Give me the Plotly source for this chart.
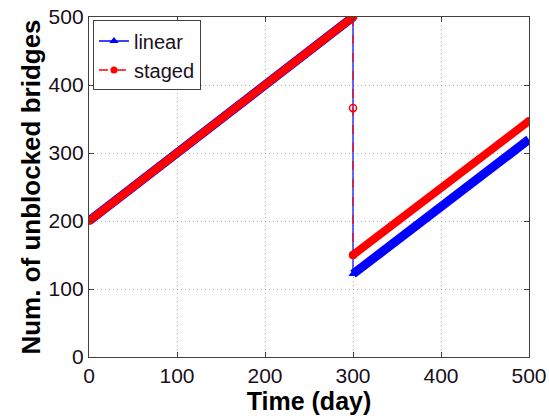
import plotly.graph_objects as go

# ---- data ----
day_rise = [0, 300]
linear_rise = [200, 500]
staged_rise = [200, 500]

day_drop_linear = [300, 300]
linear_drop = [500, 122]
day_drop_staged = [300, 300, 300]
staged_drop = [500, 366, 150]

day_recover = [300, 500]
linear_recover = [122, 320]
staged_recover = [150, 347]

x_ticks = [0, 100, 200, 300, 400, 500]
y_ticks = [0, 100, 200, 300, 400, 500]

BLUE = "#0000ff"
RED = "#ff0000"
FONT = "Liberation Sans, Arial, Helvetica, sans-serif"

fig = go.Figure()

# legend-only entries
fig.add_trace(go.Scatter(x=[None], y=[None], name="linear", mode="lines+markers",
                         line=dict(color=BLUE, width=1.5),
                         marker=dict(symbol="triangle-up", size=8, color=BLUE)))
fig.add_trace(go.Scatter(x=[None], y=[None], name="staged", mode="lines+markers",
                         line=dict(color=RED, width=1.5, dash="dash"),
                         marker=dict(symbol="circle", size=7, color=RED)))

# linear (blue): thick bands + thin drop
fig.add_trace(go.Scatter(x=day_rise, y=linear_rise, mode="lines", showlegend=False,
                         line=dict(color=BLUE, width=9)))
fig.add_trace(go.Scatter(x=day_drop_linear, y=linear_drop, mode="lines+markers", showlegend=False,
                         line=dict(color=BLUE, width=1.2),
                         marker=dict(symbol="triangle-up", size=8, color=BLUE)))
fig.add_trace(go.Scatter(x=day_recover, y=linear_recover, mode="lines", showlegend=False,
                         line=dict(color=BLUE, width=9)))

# staged (red): thick bands + dashed drop
fig.add_trace(go.Scatter(x=day_rise, y=staged_rise, mode="lines+markers", showlegend=False,
                         line=dict(color=RED, width=8),
                         marker=dict(symbol="circle", size=8, color=RED)))
fig.add_trace(go.Scatter(x=day_drop_staged, y=staged_drop, mode="lines+markers", showlegend=False,
                         line=dict(color=RED, width=1.2, dash="dash"),
                         marker=dict(symbol="circle-open", size=7, color=RED, line=dict(width=1.5))))
fig.add_trace(go.Scatter(x=day_recover, y=staged_recover, mode="lines+markers", showlegend=False,
                         line=dict(color=RED, width=8),
                         marker=dict(symbol="circle", size=8, color=RED)))

axis_common = dict(
    showline=True, linecolor="#404040", linewidth=1.3, mirror="ticks",
    ticks="inside", ticklen=5, tickcolor="#404040",
    showgrid=True, gridcolor="#b0b0b0", griddash="1px,3px", gridwidth=1,
    zeroline=False, automargin=False, ticklabeloverflow="allow",
    tickfont=dict(family=FONT, size=21, color="#1a1020"),
)

fig.update_layout(
    width=549, height=416,
    margin=dict(l=89, r=20, t=17, b=59),
    paper_bgcolor="white", plot_bgcolor="white",
    font=dict(family=FONT),
    xaxis=dict(range=[0, 500], tickvals=x_ticks, ticklabelstandoff=0,
               title=dict(text="<b>Time (day)</b>", font=dict(family=FONT, size=25, color="black"), standoff=0),
               **axis_common),
    yaxis=dict(range=[0, 500], tickvals=y_ticks,
               title=dict(text="<b>Num. of unblocked bridges</b>", font=dict(family=FONT, size=26, color="black"), standoff=0),
               **axis_common),
    legend=dict(x=0.009, y=0.99, xanchor="left", yanchor="top",
                bgcolor="white", bordercolor="#404040", borderwidth=1,
                font=dict(family=FONT, size=20, color="#1a1020"),
                tracegroupgap=0, itemwidth=30),
)

# remove the page's default 8px body margin so the figure fills the window
fig.write_html("out.html",
               config={"displayModeBar": False},
               post_script="document.body.style.margin='0';document.body.style.padding='0';")
